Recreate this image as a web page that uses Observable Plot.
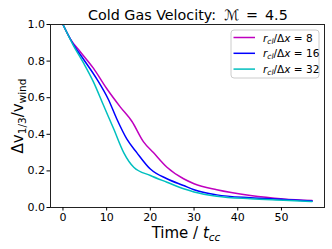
<!DOCTYPE html>
<html><head><meta charset="utf-8">
<script src="https://cdn.jsdelivr.net/npm/d3@7"></script>
<script src="https://cdn.jsdelivr.net/npm/@observablehq/plot@0.6"></script>
<style>body{margin:0;background:#fff;} #chart{position:relative;width:332px;height:249px;}</style>
</head><body><div id="chart"></div>
<script>
const tM = [0,1.7,4,7,10,13.1,15.8,18.4,20.7,23.8,27.6,30,35.2,42.9,50.5,57];
const vM = [1.0,0.92,0.85,0.76,0.65,0.55,0.47,0.36,0.30,0.22,0.157,0.13,0.097,0.066,0.047,0.038];
const tB = [0,2.4,4.7,7.8,10.4,12.3,14.6,16.9,20,23.8,27.6,30,35.2,42.9,50.5,57];
const vB = [1.0,0.89,0.81,0.70,0.59,0.485,0.375,0.30,0.21,0.157,0.12,0.097,0.069,0.053,0.044,0.035];
const tC = [0,2.4,4.7,7,9.3,11.6,13.9,16.2,20,23.8,27.6,30,35.2,42.9,50.5,57];
const vC = [1.0,0.885,0.79,0.685,0.557,0.43,0.30,0.22,0.175,0.138,0.102,0.085,0.062,0.048,0.04,0.033];
const resolutions = ["8","16","32"];
const colors = ["#bf00bf","#0000ff","#00bfbf"];
const xTicks = [0,10,20,30,40,50];
const yTicks = [0,0.2,0.4,0.6,0.8,1.0];
const titleParts = ["Cold Gas Velocity:", "ℳ", "=", "4.5"];

const series = [[tM,vM],[tB,vB],[tC,vC]];
const rows = series.flatMap(([t,v],i)=>t.map((tt,j)=>({t:tt,v:v[j],res:resolutions[i]})));

const plot = Plot.plot({
  width:332, height:249,
  marginLeft:50, marginRight:8, marginTop:24, marginBottom:42,
  style:{fontFamily:"DejaVu Sans", fontSize:"11px", background:"white", color:"#000"},
  x:{domain:[-2.85,59.85], label:null},
  y:{domain:[0,1], label:null},
  color:{domain:resolutions, range:colors},
  marks:[
    Plot.line(rows,{x:"t",y:"v",stroke:"res",z:"res",strokeWidth:1.5,curve:"monotone-x",clip:true}),
    Plot.frame({stroke:"#222",strokeWidth:1}),
    Plot.axisX({ticks:xTicks,tickSize:3.5,tickPadding:2,label:null,fontSize:11}),
    Plot.axisY({ticks:yTicks,tickSize:3.5,tickPadding:2,tickFormat:d3.format(".1f"),label:null,fontSize:11})
  ]
});
document.getElementById("chart").appendChild(plot);
const svg = d3.select(plot);
const ff = "DejaVu Sans";
// title
const tt = svg.append("text").attr("y",19.5).attr("text-anchor","start")
  .attr("font-family",ff).attr("font-size",14.3).attr("fill","#000");
tt.append("tspan").attr("x",88).text(titleParts[0]);
tt.append("tspan").attr("x",224).attr("font-style","italic").text(titleParts[1]);
tt.append("tspan").attr("x",246).text(titleParts[2]);
tt.append("tspan").attr("x",265).text(titleParts[3]);
// x label
const xl = svg.append("text").attr("x",186).attr("y",238).attr("text-anchor","middle")
  .attr("font-family",ff).attr("font-size",15).attr("fill","#000");
xl.append("tspan").text("Time / ");
xl.append("tspan").attr("font-style","italic").text("t");
xl.append("tspan").attr("font-style","italic").attr("font-size",10.5).attr("dy",3).text("cc");
// y label
const yl = svg.append("text").attr("transform","translate(23,116) rotate(-90)").attr("text-anchor","middle")
  .attr("font-family",ff).attr("font-size",15).attr("fill","#000");
yl.append("tspan").text("Δv");
yl.append("tspan").attr("font-size",10.5).attr("dy",3).text("1/3");
yl.append("tspan").attr("dy",-3).text("/v");
yl.append("tspan").attr("font-size",10.5).attr("dy",3).text("wind");
// legend
const lg = svg.append("g");
lg.append("rect").attr("x",231).attr("y",30).attr("width",88).attr("height",48).attr("rx",3)
  .attr("fill","white").attr("fill-opacity",0.8).attr("stroke","#ccc");
resolutions.forEach((r,i)=>{
  const y = 37.5 + i*15.8;
  lg.append("line").attr("x1",233.5).attr("x2",255).attr("y1",y).attr("y2",y)
    .attr("stroke",colors[i]).attr("stroke-width",1.5);
  const t = lg.append("text").attr("x",263).attr("y",y+4).attr("text-anchor","start")
    .attr("font-family",ff).attr("font-size",10.5).attr("fill","#000");
  t.append("tspan").attr("font-style","italic").text("r");
  t.append("tspan").attr("font-style","italic").attr("font-size",7.5).attr("dy",2).text("cl");
  t.append("tspan").attr("dy",-2).text("/Δ");
  t.append("tspan").attr("font-style","italic").text("x");
  t.append("tspan").text(" = " + r);
});
</script></body></html>
